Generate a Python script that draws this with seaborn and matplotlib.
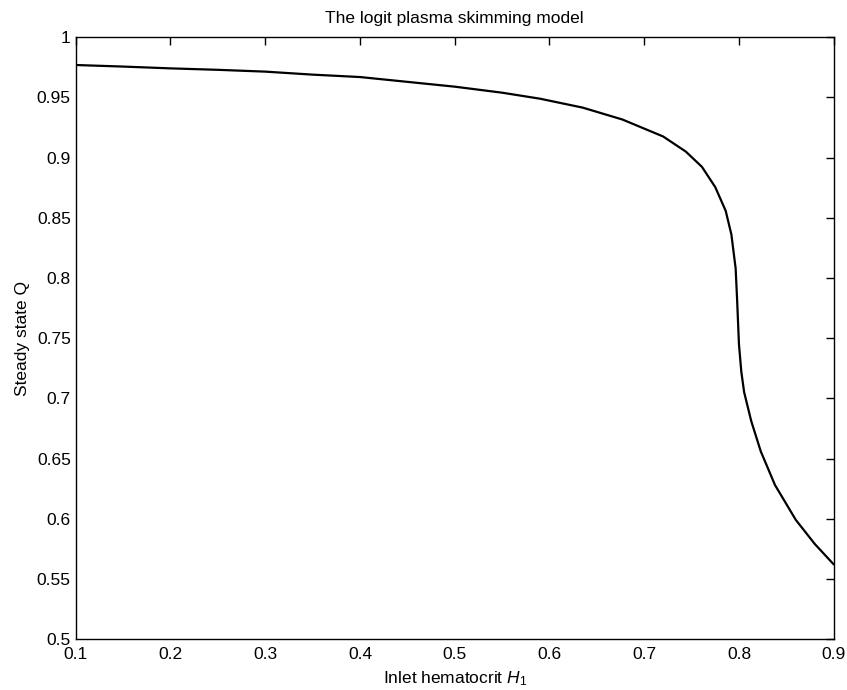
import matplotlib
matplotlib.use("Agg")
import matplotlib.pyplot as plt
import seaborn as sns
import pandas as pd

hematocrit = [0.1, 0.15, 0.2, 0.25, 0.3, 0.35, 0.4, 0.45, 0.5, 0.55, 0.59, 0.635, 0.677, 0.72,
              0.744, 0.761, 0.775, 0.786, 0.792, 0.7965, 0.798, 0.8, 0.8025, 0.8055, 0.813,
              0.823, 0.838, 0.86, 0.88, 0.9]
steady_q = [0.977, 0.9757, 0.9742, 0.973, 0.9715, 0.969, 0.967, 0.963, 0.959, 0.954, 0.949,
            0.9416, 0.9317, 0.9176, 0.905, 0.8923, 0.8755, 0.8558, 0.8362, 0.808, 0.783, 0.745,
            0.722, 0.705, 0.681, 0.656, 0.628, 0.599, 0.579, 0.562]
xticks = [0.1, 0.2, 0.3, 0.4, 0.5, 0.6, 0.7, 0.8, 0.9]
yticks = [0.5, 0.55, 0.6, 0.65, 0.7, 0.75, 0.8, 0.85, 0.9, 0.95, 1.0]
ytick_labels = ["0.5", "0.55", "0.6", "0.65", "0.7", "0.75", "0.8", "0.85", "0.9", "0.95", "1"]

sns.set_style("white")
plt.rcParams["font.family"] = ["Liberation Sans", "DejaVu Sans"]
plt.rcParams["mathtext.fontset"] = "custom"
plt.rcParams["mathtext.it"] = "Liberation Sans:italic"
plt.rcParams["mathtext.rm"] = "Liberation Sans"
plt.rcParams["text.color"] = "black"
plt.rcParams["axes.labelcolor"] = "black"

df = pd.DataFrame({"H": hematocrit, "Q": steady_q})

fig = plt.figure(figsize=(8.47, 6.9), dpi=100)
ax = fig.add_axes([0.0894, 0.0739, 0.8949, 0.872])
sns.lineplot(data=df, x="H", y="Q", ax=ax, color="black", linewidth=1.6, sort=False)

ax.set_xlim(0.1, 0.9)
ax.set_ylim(0.5, 1.0)
ax.set_xticks(xticks)
ax.set_xticklabels([f"{v:g}" for v in xticks])
ax.set_yticks(yticks)
ax.set_yticklabels(ytick_labels)
ax.tick_params(direction="in", top=True, right=True, length=6, width=1,
               labelsize=12.5, colors="black")
ax.tick_params(axis="x", pad=6)
ax.tick_params(axis="y", pad=3.5)
for s in ax.spines.values():
    s.set_visible(True)
    s.set_color("black")
    s.set_linewidth(1.0)

ax.set_title("The logit plasma skimming model", fontsize=12.5, pad=10, color="black")
ax.set_xlabel("Inlet hematocrit $H_1$", fontsize=12.5, labelpad=5)
ax.set_ylabel("Steady state Q", fontsize=12.5, labelpad=5)

fig.savefig("out.png", dpi=100, facecolor="white")
